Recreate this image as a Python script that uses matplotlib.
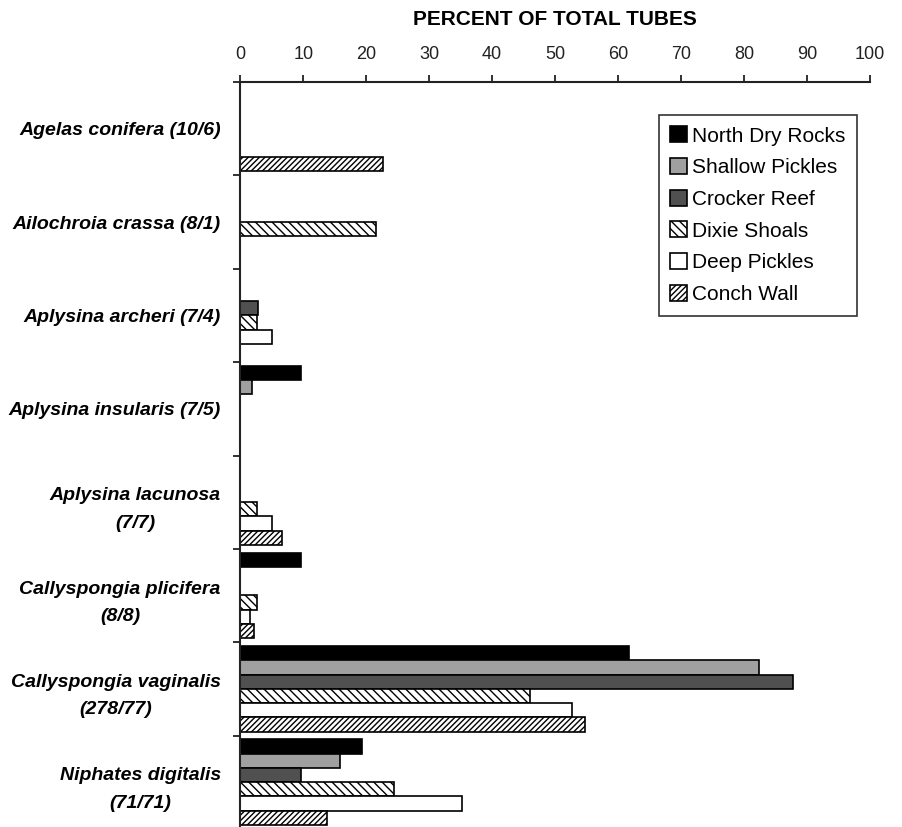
import numpy as np
import matplotlib.pyplot as plt

plt.rcParams['font.family'] = ['Liberation Sans', 'DejaVu Sans']
plt.rcParams['hatch.linewidth'] = 1.0

species = ['Agelas conifera (10/6)', 'Ailochroia crassa (8/1)',
           'Aplysina archeri (7/4)', 'Aplysina insularis (7/5)',
           'Aplysina lacunosa\n(7/7)', 'Callyspongia plicifera\n(8/8)',
           'Callyspongia vaginalis\n(278/77)', 'Niphates digitalis\n(71/71)']

sites = ['North Dry Rocks', 'Shallow Pickles', 'Crocker Reef',
         'Dixie Shoals', 'Deep Pickles', 'Conch Wall']

# percent of total tubes per species at each site
north_dry_rocks = [0, 0, 0, 9.6, 0, 9.6, 61.7, 19.3]
shallow_pickles = [0, 0, 0, 1.8, 0, 0, 82.3, 15.9]
crocker_reef = [0, 0, 2.8, 0, 0, 0, 87.8, 9.6]
dixie_shoals = [0, 21.5, 2.6, 0, 2.6, 2.6, 46.0, 24.4]
deep_pickles = [0, 0, 5.1, 0, 5.1, 1.6, 52.6, 35.2]
conch_wall = [22.7, 0, 0, 0, 6.7, 2.2, 54.7, 13.7]

series = [north_dry_rocks, shallow_pickles, crocker_reef,
          dixie_shoals, deep_pickles, conch_wall]
faces = ['#000000', '#a0a0a0', '#505050', 'white', 'white', 'white']
hatches = [None, None, None, '\\\\\\\\', None, '//////']

fig = plt.figure(figsize=(9.02, 8.27), dpi=100)
ax = fig.add_axes([0.2664, -0.0024, 0.6981, 0.9032])

n = len(species)
bar_h = 0.153
margin = 0.04
base = np.arange(n)
for j, vals in enumerate(series):
    vals = np.array(vals, dtype=float)
    vals[vals == 0] = np.nan
    pos = base + margin + bar_h * (j + 0.5)
    ax.barh(pos, vals, height=bar_h, color=faces[j], edgecolor='black',
            linewidth=1.2, hatch=hatches[j], label=sites[j])

ax.set_ylim(n, 0)
ax.set_xlim(0, 100)

# x axis on top
ax.xaxis.tick_top()
ax.xaxis.set_label_position('top')
ax.set_xticks(np.arange(0, 101, 10))
ax.tick_params(axis='x', direction='out', length=5, width=1.3,
               labelsize=13, pad=9, colors='#222222')
ax.set_xlabel('PERCENT OF TOTAL TUBES', fontsize=15, fontweight='bold',
              labelpad=15)

# y ticks at group boundaries, species names centred on each group
ax.set_yticks(np.arange(n + 1))
ax.set_yticklabels([])
ax.set_yticks(base + 0.5, minor=True)
ax.set_yticklabels(species, minor=True)
ax.tick_params(axis='y', which='major', direction='out', length=5,
               width=1.3, color='#222222')
ax.tick_params(axis='y', which='minor', length=0, pad=14)
for lab in ax.get_yticklabels(minor=True):
    lab.set_fontsize(14)
    lab.set_fontweight('bold')
    lab.set_fontstyle('italic')
    lab.set_multialignment('center')
    lab.set_linespacing(1.8)

for side in ['right', 'bottom']:
    ax.spines[side].set_visible(False)
for side in ['left', 'top']:
    ax.spines[side].set_linewidth(1.5)
    ax.spines[side].set_color('#222222')

leg = ax.legend(loc='upper right', bbox_to_anchor=(0.979, 0.956),
                borderaxespad=0, fontsize=15, fancybox=False,
                edgecolor='#333333', framealpha=1, handlelength=0.8,
                handleheight=0.8, handletextpad=0.25, labelspacing=0.6,
                borderpad=0.55)
leg.get_frame().set_linewidth(1.2)

fig.savefig('out.png', dpi=100)
